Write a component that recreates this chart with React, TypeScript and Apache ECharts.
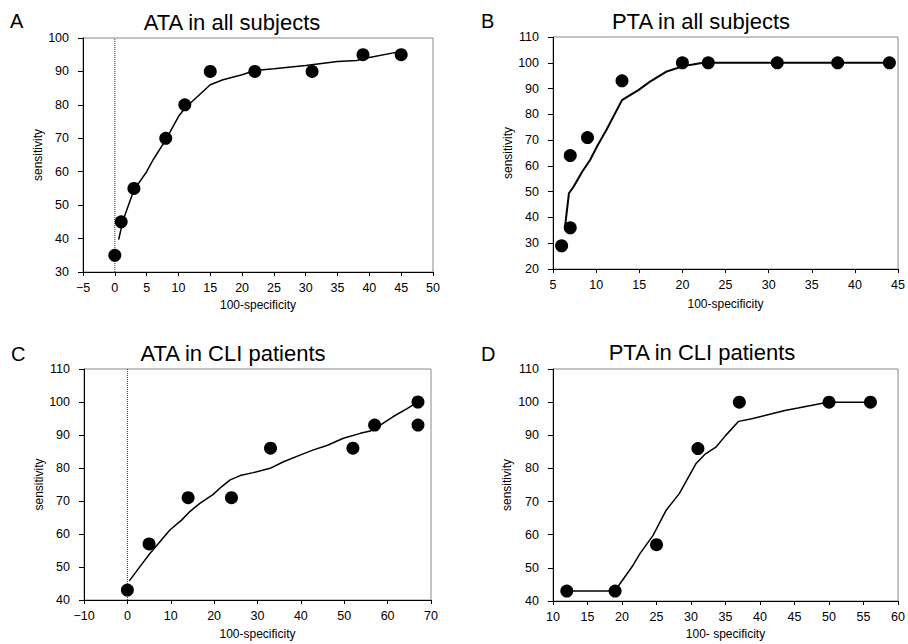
import React, { useEffect, useRef } from "react";
import * as echarts from "echarts";

// Panel A: ATA in all subjects
const ataAllPointX = [0, 1, 3, 8, 11, 15, 22, 31, 39, 45];
const ataAllPointY = [35, 45, 55, 70, 80, 90, 90, 90, 95, 95];
const ataAllCurveX = [0.6, 1.3, 3, 5, 6, 8, 10, 11, 13, 15, 17, 20, 22, 25, 30, 35, 38, 40, 45];
const ataAllCurveY = [39.7, 45.5, 54.5, 60, 63.5, 69.5, 76.5, 79, 82.5, 86, 87.5, 89, 90.3, 90.8, 91.8, 93, 93.3, 94.2, 96];

// Panel B: PTA in all subjects
const ptaAllPointX = [6, 7, 7, 9, 13, 20, 23, 31, 38, 44];
const ptaAllPointY = [29, 36, 64, 71, 93, 100, 100, 100, 100, 100];
const ptaAllCurveX = [6.4, 6.85, 7.4, 8.4, 9.3, 10.1, 11.2, 13, 13.6, 14.9, 16.2, 18.1, 20.1, 21.2, 22.4, 31, 38, 44];
const ptaAllCurveY = [36.5, 49.4, 52, 57.8, 62.3, 67.5, 74, 85.5, 86.8, 89.4, 92.6, 96.5, 98.7, 99.3, 100, 100, 100, 100];

// Panel C: ATA in CLI patients
const ataCliPointX = [0, 5, 14, 24, 33, 52, 57, 67, 67];
const ataCliPointY = [43, 57, 71, 71, 86, 86, 93, 100, 93];
const ataCliCurveX = [0.45, 2.9, 5.2, 9.8, 12.5, 14.4, 16.7, 19.8, 21.7, 23.7, 26, 29, 32.9, 36, 39.8, 42.9, 46, 49.8, 53.7, 56, 58.3, 61.3, 64.4, 66.7];
const ataCliCurveY = [45.8, 50.1, 54.1, 61.2, 64.2, 66.8, 69.3, 72, 74.3, 76.4, 77.7, 78.6, 79.9, 81.9, 83.9, 85.5, 86.8, 89, 90.5, 91.2, 93, 95.6, 97.9, 99.8];

// Panel D: PTA in CLI patients
const ptaCliPointX = [12, 19, 25, 31, 37, 50, 56];
const ptaCliPointY = [43, 43, 57, 86, 100, 100, 100];
const ptaCliCurveX = [12, 19, 19.4, 21.6, 22.6, 24.5, 26.4, 28.3, 30.7, 32.1, 33.6, 35, 36.9, 38.8, 41.7, 43.6, 45.5, 49.8, 56];
const ptaCliCurveY = [43, 43, 44.3, 50.8, 54.3, 59.8, 67.4, 72.4, 81.4, 84.4, 86.4, 89.9, 94.2, 95, 96.5, 97.5, 98.2, 100, 100];

const panelLetters = ["A", "B", "C", "D"];
const panelTitles = ["ATA in all subjects", "PTA in all subjects", "ATA in CLI patients", "PTA in CLI patients"];
const xAxisNames = ["100-specificity", "100-specificity", "100-specificity", "100- specificity"];
const yAxisName = "sensitivity";
const xRanges = [[-5, 50, 5], [5, 45, 5], [-10, 70, 10], [10, 60, 5]];
const yRanges = [[30, 100, 10], [20, 110, 10], [40, 110, 10], [40, 110, 10]];
const zeroLinePanels = [0, 2];

const FONT = 'Arial, "Liberation Sans", Helvetica, sans-serif';

const zip = (xs: number[], ys: number[]) => xs.map((x, i) => [x, ys[i]]);

const pointSets = [
  zip(ataAllPointX, ataAllPointY),
  zip(ptaAllPointX, ptaAllPointY),
  zip(ataCliPointX, ataCliPointY),
  zip(ptaCliPointX, ptaCliPointY),
];
const curveSets = [
  zip(ataAllCurveX, ataAllCurveY),
  zip(ptaAllCurveX, ptaAllCurveY),
  zip(ataCliCurveX, ataCliCurveY),
  zip(ptaCliCurveX, ptaCliCurveY),
];

const grids = [
  { left: 83, top: 38, width: 350, height: 234 },
  { left: 553, top: 37, width: 348, height: 232 },
  { left: 84, top: 369, width: 347, height: 231 },
  { left: 553, top: 369, width: 349, height: 232 },
];
const titlePos = [
  { x: 232, y: 11 },
  { x: 701, y: 10 },
  { x: 233, y: 342 },
  { x: 702, y: 341 },
];
const letterPos = [
  { x: 10, y: 11 },
  { x: 481, y: 11 },
  { x: 11, y: 344 },
  { x: 481, y: 344 },
];
const yNameGaps = [34, 36, 35, 40];
const xNameGaps = [27, 29, 28, 27];
const curveWidths = [1.5, 2, 1.5, 1.5];

const fmt = (v: number) => String(v).replace("-", "\u2212");

export default function App() {
  const ref = useRef<HTMLDivElement>(null);
  useEffect(() => {
    if (!ref.current) return;
    const chart = echarts.init(ref.current, undefined, { renderer: "svg" });
    const series: any[] = [];
    pointSets.forEach((pts, i) => {
      series.push({
        type: "line",
        xAxisIndex: i,
        yAxisIndex: i,
        data: curveSets[i],
        showSymbol: false,
        symbol: "none",
        lineStyle: { color: "#000", width: curveWidths[i] },
        z: 3,
      });
      series.push({
        type: "scatter",
        xAxisIndex: i,
        yAxisIndex: i,
        data: pts,
        symbolSize: 13,
        itemStyle: { color: "#000", opacity: 1 },
        z: 4,
      });
      if (zeroLinePanels.includes(i)) {
        series.push({
          type: "line",
          xAxisIndex: i,
          yAxisIndex: i,
          data: [
            [0, yRanges[i][0]],
            [0, yRanges[i][1]],
          ],
          symbol: "none",
          lineStyle: { color: "#333", width: 1, type: [1, 1] },
          z: 2,
        });
      }
    });
    const graphic: any[] = [];
    panelTitles.forEach((t, i) => {
      graphic.push({
        type: "text",
        x: titlePos[i].x,
        y: titlePos[i].y,
        style: {
          text: t,
          font: `22px ${FONT}`,
          fill: "#000",
          textAlign: "center",
          align: "center",
          textVerticalAlign: "top",
          verticalAlign: "top",
        },
      });
      graphic.push({
        type: "text",
        x: letterPos[i].x,
        y: letterPos[i].y,
        style: {
          text: panelLetters[i],
          font: `20px ${FONT}`,
          fill: "#000",
          textVerticalAlign: "top",
          verticalAlign: "top",
        },
      });
    });
    chart.setOption({
      animation: false,
      backgroundColor: "#fff",
      grid: grids.map((g) => ({
        ...g,
        show: true,
        borderColor: "#888",
        borderWidth: 1,
        backgroundColor: "transparent",
        containLabel: false,
      })),
      xAxis: xRanges.map((r, i) => ({
        type: "value",
        gridIndex: i,
        min: r[0],
        max: r[1],
        interval: r[2],
        name: xAxisNames[i],
        nameLocation: "middle",
        nameGap: xNameGaps[i],
        nameTextStyle: { color: "#000", fontSize: 12, fontFamily: FONT },
        axisLine: { onZero: false, lineStyle: { color: "#000", width: 1 } },
        axisTick: { show: true, inside: false, length: 4, lineStyle: { color: "#000" } },
        axisLabel: { color: "#000", fontSize: 12.5, fontFamily: FONT, margin: 9, formatter: fmt },
        splitLine: { show: false },
      })),
      yAxis: yRanges.map((r, i) => ({
        type: "value",
        gridIndex: i,
        min: r[0],
        max: r[1],
        interval: r[2],
        name: yAxisName,
        nameLocation: "middle",
        nameGap: yNameGaps[i],
        nameTextStyle: { color: "#000", fontSize: 12, fontFamily: FONT },
        axisLine: { show: true, onZero: false, lineStyle: { color: "#000", width: 1 } },
        axisTick: { show: true, inside: false, length: 5, lineStyle: { color: "#000" } },
        axisLabel: { color: "#000", fontSize: 12.5, fontFamily: FONT, margin: 14, formatter: fmt },
        splitLine: { show: false },
      })),
      graphic,
      series,
    });
    return () => chart.dispose();
  }, []);
  return (
    <div
      ref={ref}
      style={{ position: "fixed", left: 0, top: 0, width: 908, height: 644, background: "#fff" }}
    />
  );
}
